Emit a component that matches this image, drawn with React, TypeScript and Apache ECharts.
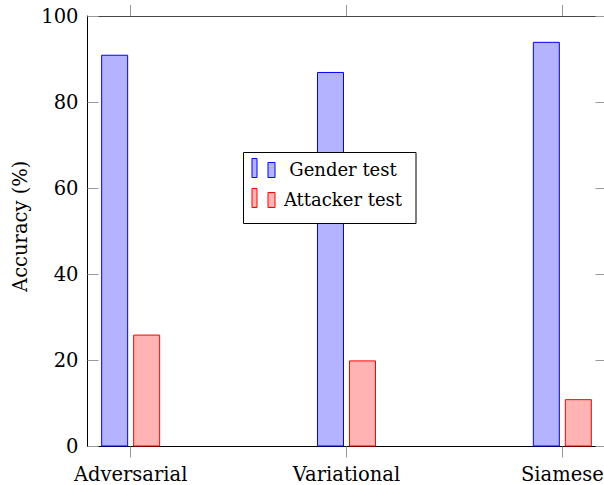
import React, { useEffect, useRef } from "react";
import * as echarts from "echarts";

const categories = ["Adversarial", "Variational", "Siamese"];
const genderTest = [91, 87, 94];
const attackerTest = [26, 20, 11];
const yTicks = [0, 20, 40, 60, 80, 100];
const seriesNames = ["Gender test", "Attacker test"];

const FONT = "DejaVu Serif";
const FS = 19.5;

export default function App() {
  const ref = useRef<HTMLDivElement>(null);
  useEffect(() => {
    if (!ref.current) return;
    const chart = echarts.init(ref.current, undefined, { renderer: "svg" });
    const catIdx = categories.map((_, i) => i);
    const blue = { fill: "#b3b3ff", stroke: "#0000ff" };
    const red = { fill: "#ffb3b3", stroke: "#ff0000" };
    const legendItems = [
      { name: seriesNames[0], c: blue, cy: 168 },
      { name: seriesNames[1], c: red, cy: 198 },
    ];
    chart.setOption({
      animation: false,
      textStyle: { fontFamily: FONT },
      grid: {
        left: 87.5,
        top: 16,
        width: 518,
        height: 430.5,
        containLabel: false,
        outerBoundsMode: "none",
      },
      xAxis: [
        {
          type: "value",
          position: "bottom",
          min: -0.2,
          max: 2.2,
          splitLine: { show: false },
          axisLine: { show: true, onZero: false, lineStyle: { color: "#000", width: 1 } },
          axisTick: {
            show: true,
            inside: false,
            length: 11,
            customValues: catIdx,
            lineStyle: { color: "#999", width: 1 },
          },
          axisLabel: {
            show: true,
            customValues: catIdx,
            formatter: (v: number) => categories[Math.round(v)] ?? "",
            fontFamily: FONT,
            fontSize: FS,
            color: "#000",
            margin: 18,
            hideOverlap: false,
          },
        },
        {
          type: "value",
          position: "top",
          min: -0.2,
          max: 2.2,
          splitLine: { show: false },
          axisLine: { show: true, onZero: false, lineStyle: { color: "#444", width: 1 } },
          axisTick: {
            show: true,
            inside: false,
            length: 11,
            customValues: catIdx,
            lineStyle: { color: "#999", width: 1 },
          },
          axisLabel: { show: false },
        },
      ],
      yAxis: [
        {
          type: "value",
          position: "left",
          min: 0,
          max: 100,
          interval: 20,
          name: "Accuracy (%)",
          nameLocation: "middle",
          nameGap: 51,
          nameTextStyle: { fontFamily: FONT, fontSize: FS, color: "#000", padding: [0, 0, 0, 10] },
          splitLine: { show: false },
          axisLine: { show: true, onZero: false, lineStyle: { color: "#000", width: 1 } },
          axisTick: { show: true, inside: true, length: 11, lineStyle: { color: "#999", width: 1 } },
          axisLabel: {
            fontFamily: FONT,
            fontSize: FS,
            color: "#000",
            margin: 9,
            formatter: (v: number) => (yTicks.includes(v) ? String(v) : ""),
          },
        },
        {
          type: "value",
          position: "right",
          min: 0,
          max: 100,
          interval: 20,
          splitLine: { show: false },
          axisLine: { show: true, onZero: false, lineStyle: { color: "#000", width: 1 } },
          axisTick: { show: true, inside: true, length: 10, lineStyle: { color: "#999", width: 1 } },
          axisLabel: { show: false },
        },
      ],
      series: [
        {
          name: seriesNames[0],
          type: "bar",
          xAxisIndex: 0,
          yAxisIndex: 0,
          barWidth: 27,
          barGap: "18.5%",
          data: genderTest.map((v, i) => [i, v]),
          itemStyle: { color: blue.fill, borderColor: blue.stroke, borderWidth: 1 },
        },
        {
          name: seriesNames[1],
          type: "bar",
          xAxisIndex: 0,
          yAxisIndex: 0,
          barWidth: 27,
          barGap: "18.5%",
          data: attackerTest.map((v, i) => [i, v]),
          itemStyle: { color: red.fill, borderColor: red.stroke, borderWidth: 1 },
        },
      ],
      graphic: [
        {
          type: "rect",
          z: 100,
          shape: { x: 243.5, y: 152.5, width: 172.5, height: 71 },
          style: { fill: "#fff", stroke: "#000", lineWidth: 1 },
        },
        ...legendItems.flatMap((it) => [
          {
            type: "rect",
            z: 101,
            shape: { x: 252, y: it.cy - 9.5, width: 5, height: 19 },
            style: { fill: it.c.fill, stroke: it.c.stroke, lineWidth: 1 },
          },
          {
            type: "rect",
            z: 101,
            shape: { x: 268, y: it.cy - 5.5, width: 7, height: 15 },
            style: { fill: it.c.fill, stroke: it.c.stroke, lineWidth: 1 },
          },
          {
            type: "text",
            z: 101,
            x: 343,
            y: it.cy + 1,
            style: {
              text: it.name,
              fontFamily: FONT,
              fontSize: 18,
              fill: "#000",
              align: "center",
              verticalAlign: "middle",
            },
          },
        ]),
      ],
    });
    return () => chart.dispose();
  }, []);
  return (
    <div
      ref={ref}
      style={{ position: "fixed", left: 0, top: 0, width: 604, height: 485, background: "#fff" }}
    />
  );
}
